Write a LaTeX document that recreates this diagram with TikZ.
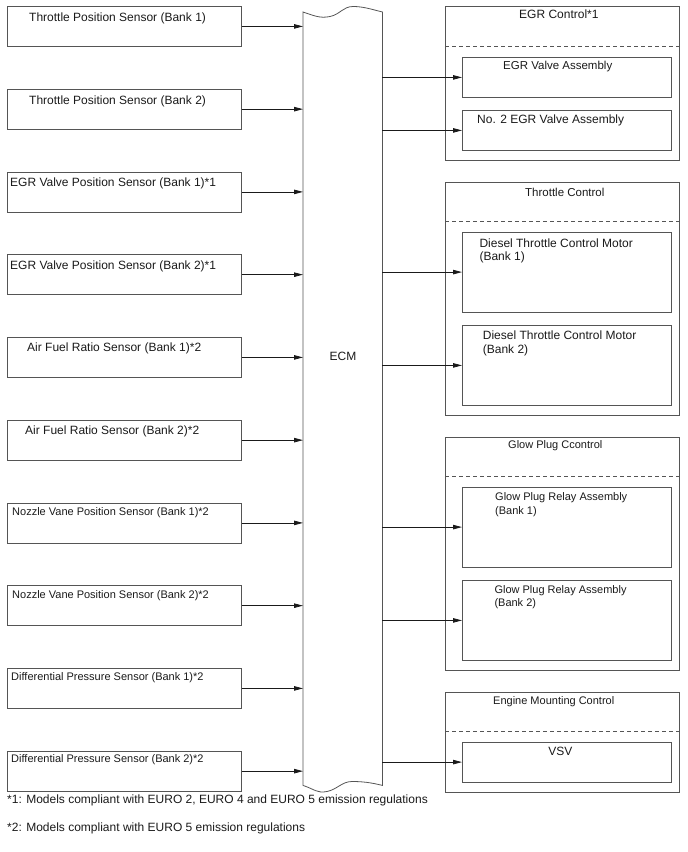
\documentclass[tikz,border=0pt]{standalone}
\usepackage{fontspec}
\setmainfont{Liberation Sans}
\usepackage{xcolor}
\usetikzlibrary{arrows.meta}
\definecolor{ink}{HTML}{1A1A1A}
\definecolor{frame}{HTML}{555555}
\newcommand{\fsbig}{\fontsize{12}{13.5}\selectfont}
\newcommand{\fsmid}{\fontsize{11.5}{13.5}\selectfont}
\newcommand{\fssmall}{\fontsize{11}{13.5}\selectfont}
\tikzset{
  sensorbox/.style={draw=frame,line width=0.8pt,anchor=north west,inner sep=0pt,
    minimum width=234pt,minimum height=40pt},
  groupbox/.style={draw=frame,line width=0.8pt,anchor=north west,inner sep=0pt,
    minimum width=234pt},
  partbox/.style={draw=frame,line width=0.8pt,anchor=north west,inner sep=0pt,
    minimum width=209pt},
  ecmbody/.style={anchor=north west,inner sep=0pt,minimum width=79pt,minimum height=773pt},
  boxlabel/.style={anchor=north west,inner sep=0pt,text=ink,font=\fsbig,align=left},
  notetext/.style={anchor=west,inner sep=0pt,text=ink,font=\fsbig},
  divider/.style={draw=frame,line width=0.8pt,dash pattern=on 4pt off 3pt},
  sigarrow/.style={-{Triangle[length=9pt,width=4.5pt]},line width=0.8pt,draw=ink}
}

\begin{document}
\begin{tikzpicture}[x=1pt,y=-1pt]
\useasboundingbox (0,0) rectangle (688,852);
\node[sensorbox,label={[boxlabel,xshift=22pt,yshift=-6.5pt]north west:Throttle Position Sensor (Bank 1)}] (tps1) at (7,6) {};
\node[sensorbox,label={[boxlabel,xshift=22pt,yshift=-7pt]north west:Throttle Position Sensor (Bank 2)}] (tps2) at (7,88.75) {};
\node[sensorbox,label={[boxlabel,xshift=3pt,yshift=-6pt]north west:EGR Valve Position Sensor (Bank 1)*1}] (egrps1) at (7,171.5) {};
\node[sensorbox,label={[boxlabel,xshift=3pt,yshift=-6pt]north west:EGR Valve Position Sensor (Bank 2)*1}] (egrps2) at (7,254.25) {};
\node[sensorbox,label={[boxlabel,xshift=20pt,yshift=-6pt]north west:Air Fuel Ratio Sensor (Bank 1)*2}] (afs1) at (7,337) {};
\node[sensorbox,label={[boxlabel,xshift=18pt,yshift=-6pt]north west:Air Fuel Ratio Sensor (Bank 2)*2}] (afs2) at (7,419.75) {};
\node[sensorbox,label={[boxlabel,font=\fssmall,xshift=5pt,yshift=-5pt]north west:Nozzle Vane Position Sensor (Bank 1)*2}] (nvps1) at (7,502.5) {};
\node[sensorbox,label={[boxlabel,font=\fssmall,xshift=5pt,yshift=-5pt]north west:Nozzle Vane Position Sensor (Bank 2)*2}] (nvps2) at (7,585.25) {};
\node[sensorbox,label={[boxlabel,font=\fssmall,xshift=4pt,yshift=-4pt]north west:Differential Pressure Sensor (Bank 1)*2}] (dps1) at (7,668) {};
\node[sensorbox,label={[boxlabel,font=\fssmall,xshift=4pt,yshift=-4pt]north west:Differential Pressure Sensor (Bank 2)*2}] (dps2) at (7,750.75) {};

\node[ecmbody] (ecm) at (303,12) {};
\draw[draw=frame,line width=0.8pt] (ecm.north west) .. controls +(12,4) and +(-10,2) .. (330,16.5)
  .. controls +(10,-2) and +(-10,0) .. (353,6.5) .. controls +(10,0) and +(-12,-3) .. (ecm.north east)
  -- (ecm.south east) .. controls +(-12,-3) and +(10,0) .. (352,781.5)
  .. controls +(-10,0) and +(10,-2) .. (327,791.5) .. controls +(-10,2) and +(12,4) .. (ecm.south west) -- cycle;
\node[text=ink,font=\fsbig,inner sep=0pt] (ecmname) at (343,356) {ECM};

\node[groupbox,minimum height=154pt,label={[boxlabel,xshift=74pt,yshift=-3.5pt]north west:EGR Control*1}] (egrctl) at (445,6) {};
\node[groupbox,minimum height=233.3pt,label={[boxlabel,font=\fsmid,xshift=80pt,yshift=-6.5pt]north west:Throttle Control}] (thrctl) at (445,181.7) {};
\node[groupbox,minimum height=233.3pt,label={[boxlabel,font=\fssmall,xshift=63pt,yshift=-4pt]north west:Glow Plug Ccontrol}] (glowctl) at (445,436.7) {};
\node[groupbox,minimum height=100pt,label={[boxlabel,font=\fssmall,xshift=48pt,yshift=-5pt]north west:Engine Mounting Control}] (mountctl) at (445,691.7) {};
\draw[divider] ([yshift=-40pt]egrctl.north west) -- ([yshift=-40pt]egrctl.north east);
\draw[divider] ([yshift=-40pt]thrctl.north west) -- ([yshift=-40pt]thrctl.north east);
\draw[divider] ([yshift=-40pt]glowctl.north west) -- ([yshift=-40pt]glowctl.north east);
\draw[divider] ([yshift=-40pt]mountctl.north west) -- ([yshift=-40pt]mountctl.north east);

\node[partbox,minimum height=40pt,label={[boxlabel,font=\fsmid,xshift=41pt,yshift=-4pt]north west:EGR Valve Assembly}] (egrv1) at (462,57) {};
\node[partbox,minimum height=40pt,label={[boxlabel,xshift=15pt,yshift=-4.3pt]north west:No. 2 EGR Valve Assembly}] (egrv2) at (462,110) {};
\node[partbox,minimum height=80pt,label={[boxlabel,xshift=17.3pt,yshift=-6.6pt]north west:Diesel Throttle Control Motor\\(Bank 1)}] (dtcm1) at (462,231.7) {};
\node[partbox,minimum height=80pt,label={[boxlabel,xshift=20.7pt,yshift=-5.7pt]north west:Diesel Throttle Control Motor\\(Bank 2)}] (dtcm2) at (462,325) {};
\node[partbox,minimum height=80pt,label={[boxlabel,font=\fssmall,xshift=33pt,yshift=-6pt]north west:Glow Plug Relay Assembly\\(Bank 1)}] (gpra1) at (462,486.7) {};
\node[partbox,minimum height=80pt,label={[boxlabel,font=\fssmall,xshift=32.3pt,yshift=-5pt]north west:Glow Plug Relay Assembly\\(Bank 2)}] (gpra2) at (462,580) {};
\node[partbox,minimum height=40pt,label={[boxlabel,anchor=north,xshift=-6.5pt,yshift=-5pt]north:VSV}] (vsv) at (462,741.7) {};

\draw[sigarrow] (tps1.east) -- (tps1.east -| ecm.west);
\draw[sigarrow] (tps2.east) -- (tps2.east -| ecm.west);
\draw[sigarrow] (egrps1.east) -- (egrps1.east -| ecm.west);
\draw[sigarrow] (egrps2.east) -- (egrps2.east -| ecm.west);
\draw[sigarrow] (afs1.east) -- (afs1.east -| ecm.west);
\draw[sigarrow] (afs2.east) -- (afs2.east -| ecm.west);
\draw[sigarrow] (nvps1.east) -- (nvps1.east -| ecm.west);
\draw[sigarrow] (nvps2.east) -- (nvps2.east -| ecm.west);
\draw[sigarrow] (dps1.east) -- (dps1.east -| ecm.west);
\draw[sigarrow] (dps2.east) -- (dps2.east -| ecm.west);

\draw[sigarrow] (egrv1.west -| ecm.east) -- (egrv1.west);
\draw[sigarrow] (egrv2.west -| ecm.east) -- (egrv2.west);
\draw[sigarrow] (dtcm1.west -| ecm.east) -- (dtcm1.west);
\draw[sigarrow] (dtcm2.west -| ecm.east) -- (dtcm2.west);
\draw[sigarrow] (gpra1.west -| ecm.east) -- (gpra1.west);
\draw[sigarrow] (gpra2.west -| ecm.east) -- (gpra2.west);
\draw[sigarrow] (vsv.west -| ecm.east) -- (vsv.west);

\node[notetext] (note1) at (7,800) {*1: Models compliant with EURO 2, EURO 4 and EURO 5 emission regulations};
\node[notetext] (note2) at (7,828) {*2: Models compliant with EURO 5 emission regulations};
\end{tikzpicture}
\end{document}
